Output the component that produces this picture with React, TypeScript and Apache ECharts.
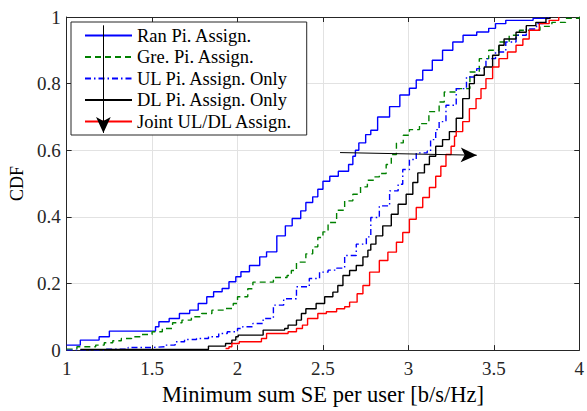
import React, { useEffect, useRef } from "react";
import * as echarts from "echarts";

const seriesNames = [
  "Ran Pi. Assign.",
  "Gre. Pi. Assign.",
  "UL Pi. Assign. Only",
  "DL Pi. Assign. Only",
  "Joint UL/DL Assign.",
];

const ranPi: [number, number][] = [
  [1.0, 0.015], [1.08, 0.03], [1.19, 0.04], [1.25, 0.057], [1.52, 0.07], [1.54, 0.085],
  [1.6, 0.095], [1.66, 0.11], [1.72, 0.12], [1.77, 0.14], [1.82, 0.16], [1.86, 0.175],
  [1.91, 0.185], [1.95, 0.205], [1.99, 0.22], [2.02, 0.235], [2.07, 0.254], [2.13, 0.28],
  [2.17, 0.295], [2.23, 0.343], [2.28, 0.373], [2.32, 0.395], [2.37, 0.418], [2.4, 0.443],
  [2.44, 0.46], [2.47, 0.483], [2.5, 0.507], [2.54, 0.522], [2.59, 0.537], [2.65, 0.557],
  [2.675, 0.582], [2.69, 0.6], [2.71, 0.622], [2.75, 0.647], [2.78, 0.66], [2.82, 0.7],
  [2.89, 0.731], [2.95, 0.766], [3.006, 0.786], [3.046, 0.811], [3.084, 0.84], [3.14, 0.87],
  [3.2, 0.9], [3.26, 0.925], [3.32, 0.945], [3.4, 0.955], [3.47, 0.966], [3.51, 0.98],
  [3.57, 0.99], [3.73, 0.996], [3.82, 1.0],
];

const grePi: [number, number][] = [
  [1.0, 0.003], [1.06, 0.01], [1.17, 0.015], [1.22, 0.022], [1.27, 0.028], [1.32, 0.035],
  [1.38, 0.04], [1.44, 0.047], [1.5, 0.055], [1.56, 0.065], [1.62, 0.082], [1.675, 0.09],
  [1.73, 0.1], [1.79, 0.11], [1.85, 0.12], [1.93, 0.125], [1.975, 0.14], [2.0, 0.16],
  [2.06, 0.184], [2.09, 0.204], [2.21, 0.218], [2.29, 0.224], [2.315, 0.239], [2.345, 0.264],
  [2.4, 0.289], [2.44, 0.31], [2.47, 0.338], [2.5, 0.355], [2.53, 0.383], [2.58, 0.42],
  [2.627, 0.448], [2.675, 0.468], [2.72, 0.49], [2.76, 0.51], [2.8, 0.52], [2.83, 0.53],
  [2.87, 0.557], [2.9, 0.587], [2.93, 0.622], [2.97, 0.645], [3.006, 0.662], [3.065, 0.68],
  [3.12, 0.716], [3.18, 0.745], [3.21, 0.775], [3.28, 0.785], [3.36, 0.835], [3.415, 0.875],
  [3.47, 0.9], [3.53, 0.925], [3.59, 0.945], [3.65, 0.96], [3.77, 0.972], [3.84, 0.984],
  [3.92, 0.996], [4.0, 1.0],
];

const ulPi: [number, number][] = [
  [1.0, 0.0], [1.22, 0.003], [1.36, 0.008], [1.5, 0.01], [1.575, 0.015], [1.635, 0.025],
  [1.69, 0.032], [1.76, 0.035], [1.83, 0.04], [1.89, 0.05], [1.94, 0.055], [2.0, 0.065],
  [2.03, 0.07], [2.09, 0.08], [2.15, 0.095], [2.21, 0.135], [2.27, 0.154], [2.345, 0.19],
  [2.42, 0.215], [2.48, 0.234], [2.53, 0.24], [2.58, 0.246], [2.627, 0.284], [2.695, 0.318],
  [2.754, 0.34], [2.78, 0.398], [2.83, 0.433], [2.89, 0.478], [2.94, 0.498], [2.967, 0.542],
  [3.006, 0.572], [3.046, 0.592], [3.11, 0.597], [3.13, 0.632], [3.16, 0.662], [3.18, 0.686],
  [3.22, 0.735], [3.28, 0.785], [3.34, 0.82], [3.4, 0.845], [3.454, 0.875], [3.51, 0.895],
  [3.57, 0.925], [3.63, 0.945], [3.69, 0.964], [3.75, 0.98], [3.805, 0.995], [3.82, 1.0],
];

const dlPi: [number, number][] = [
  [1.08, 0.002], [1.83, 0.012], [1.93, 0.02], [1.967, 0.03], [1.99, 0.04], [2.004, 0.045],
  [2.15, 0.06], [2.276, 0.065], [2.296, 0.075], [2.345, 0.09], [2.374, 0.11], [2.4, 0.124],
  [2.46, 0.14], [2.51, 0.16], [2.558, 0.174], [2.587, 0.194], [2.617, 0.224], [2.656, 0.239],
  [2.695, 0.254], [2.734, 0.28], [2.763, 0.3], [2.78, 0.318], [2.81, 0.343], [2.85, 0.373],
  [2.9, 0.408], [2.94, 0.438], [2.987, 0.468], [3.026, 0.503], [3.055, 0.532], [3.094, 0.557],
  [3.123, 0.582], [3.16, 0.612], [3.2, 0.632], [3.24, 0.656], [3.28, 0.696], [3.318, 0.755],
  [3.357, 0.8], [3.386, 0.825], [3.444, 0.85], [3.493, 0.885], [3.53, 0.915], [3.56, 0.934],
  [3.63, 0.954], [3.69, 0.974], [3.746, 0.984], [3.805, 0.996], [3.83, 1.0],
];

const jointUlDl: [number, number][] = [
  [1.93, 0.005], [1.95, 0.01], [1.967, 0.02], [2.01, 0.025], [2.14, 0.035], [2.17, 0.05],
  [2.296, 0.055], [2.345, 0.065], [2.38, 0.075], [2.41, 0.095], [2.47, 0.11], [2.52, 0.115],
  [2.58, 0.124], [2.627, 0.13], [2.656, 0.144], [2.7, 0.169], [2.734, 0.194], [2.773, 0.234],
  [2.83, 0.269], [2.88, 0.294], [2.93, 0.324], [2.967, 0.353], [3.006, 0.393], [3.046, 0.428],
  [3.084, 0.458], [3.123, 0.488], [3.16, 0.522], [3.19, 0.552], [3.22, 0.587], [3.25, 0.612],
  [3.27, 0.642], [3.28, 0.656], [3.318, 0.686], [3.357, 0.725], [3.396, 0.755], [3.425, 0.785],
  [3.454, 0.815], [3.493, 0.85], [3.53, 0.875], [3.58, 0.895], [3.63, 0.915], [3.67, 0.934],
  [3.707, 0.96], [3.766, 0.98], [3.824, 0.99], [3.88, 1.0],
];

const seriesData = [ranPi, grePi, ulPi, dlPi, jointUlDl];
const seriesColors = ["#0000ff", "#008000", "#0000ff", "#000000", "#ff0000"];
const seriesDash: any[] = ["solid", [6, 4], [6, 3, 1.5, 3], "solid", "solid"];

// annotation arrows (data coordinates): [start, end]
const arrowDown: [number, number][] = [[1.215, 0.975], [1.215, 0.652]];
const arrowRight: [number, number][] = [[2.6, 0.593], [3.4, 0.585]];

const xLimits = [1, 4];
const yLimits = [0, 1];
const xStep = 0.5;
const yStep = 0.2;

const FONT = "'Liberation Serif', 'Times New Roman', serif";
const AXIS_COLOR = "#262626";

export default function App() {
  const ref = useRef<HTMLDivElement>(null);
  useEffect(() => {
    if (!ref.current) return;
    const chart = echarts.init(ref.current, undefined, { renderer: "svg" });
    const axisCommon = {
      type: "value" as const,
      axisLine: { show: true, onZero: false, lineStyle: { color: AXIS_COLOR, width: 1 } },
      axisTick: { show: true, inside: true, length: 5, lineStyle: { color: AXIS_COLOR, width: 1 } },
    };
    const option: any = {
      animation: false,
      backgroundColor: "#ffffff",
      grid: { left: 66, right: 7, top: 17, bottom: 59, containLabel: false },
      legend: {
        data: seriesNames,
        orient: "vertical",
        left: 71,
        top: 22,
        z: 3,
        selectedMode: false,
        itemWidth: 47,
        itemHeight: 14,
        itemGap: 2.5,
        padding: [4, 14, 4, 13],
        borderColor: AXIS_COLOR,
        borderWidth: 1,
        backgroundColor: "#ffffff",
        itemStyle: { opacity: 0 },
        textStyle: { fontFamily: FONT, fontSize: 18.5, color: "#000", lineHeight: 18 },
      },
      xAxis: [
        {
          ...axisCommon,
          min: xLimits[0],
          max: xLimits[1],
          interval: xStep,
          position: "bottom",
          axisLabel: { color: AXIS_COLOR, fontFamily: FONT, fontSize: 19, margin: 9 },
          splitLine: { show: true, lineStyle: { color: "#e2e2e2", width: 1 } },
          name: "Minimum sum SE per user [b/s/Hz]",
          nameLocation: "middle",
          nameGap: 30,
          nameTextStyle: { fontFamily: FONT, fontSize: 22.5, color: "#000" },
        },
        {
          ...axisCommon,
          min: xLimits[0],
          max: xLimits[1],
          interval: xStep,
          position: "top",
          axisLabel: { show: false },
          splitLine: { show: false },
        },
      ],
      yAxis: [
        {
          ...axisCommon,
          min: yLimits[0],
          max: yLimits[1],
          interval: yStep,
          position: "left",
          axisLabel: { color: AXIS_COLOR, fontFamily: FONT, fontSize: 19, margin: 6 },
          splitLine: { show: true, lineStyle: { color: "#e2e2e2", width: 1 } },
          name: "CDF",
          nameLocation: "middle",
          nameGap: 40,
          nameRotate: 90,
          nameTextStyle: { fontFamily: FONT, fontSize: 18, color: "#000" },
        },
        {
          ...axisCommon,
          min: yLimits[0],
          max: yLimits[1],
          interval: yStep,
          position: "right",
          axisLabel: { show: false },
          splitLine: { show: false },
        },
      ],
      series: seriesNames.map((name, i) => {
        const s: any = {
          name,
          type: "line",
          xAxisIndex: 0,
          yAxisIndex: 0,
          data: seriesData[i],
          step: "end",
          symbol: "none",
          showSymbol: false,
          z: 2 + i,
          lineStyle: { color: seriesColors[i], width: 1.4, type: seriesDash[i] },
          itemStyle: { color: seriesColors[i] },
          emphasis: { disabled: true },
        };
        if (i === seriesNames.length - 1) {
          s.markLine = {
            silent: true,
            z: 10,
            symbol: ["none", "arrow"],
            symbolSize: [11, 16],
            label: { show: false },
            emphasis: { disabled: true },
            lineStyle: { color: "#000", width: 1, type: "solid" },
            data: [
              [{ coord: arrowDown[0] }, { coord: arrowDown[1] }],
              [{ coord: arrowRight[0] }, { coord: arrowRight[1] }],
            ],
          };
        }
        return s;
      }),
    };
    chart.setOption(option);
    return () => chart.dispose();
  }, []);
  return (
    <div
      ref={ref}
      style={{ position: "fixed", left: 0, top: 0, width: 587, height: 411, background: "#fff" }}
    />
  );
}
